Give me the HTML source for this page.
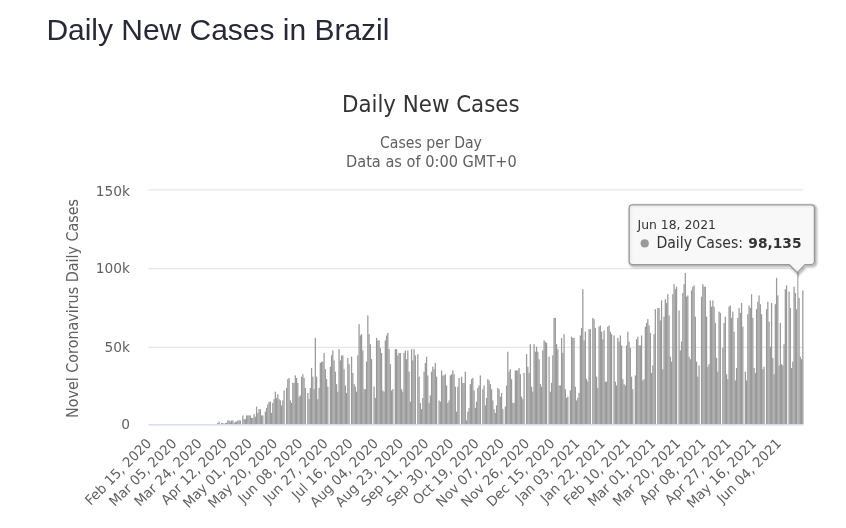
<!DOCTYPE html>
<html lang="en"><head><meta charset="utf-8"><title>Daily New Cases in Brazil</title>
<style>
html,body{margin:0;padding:0;background:#fff;}
body{width:846px;height:528px;overflow:hidden;position:relative;font-family:"Liberation Sans",Arial,sans-serif;}
h3{position:absolute;left:46.4px;top:12.5px;margin:0;font-size:30px;line-height:34px;font-weight:400;color:#272937;white-space:nowrap;letter-spacing:-0.02px}
svg{position:absolute;left:0;top:0;}
svg text{font-family:"DejaVu Sans","Liberation Sans",sans-serif;}
</style></head><body>
<h3>Daily New Cases in Brazil</h3>
<svg width="846" height="528" viewBox="0 0 846 528">
<g fill="none" stroke="#e6e6e6" stroke-width="1.25">
<path d="M148.45 189.8H803.45M148.45 268.5H803.45M148.45 347.3H803.45"/>
</g>
<g transform="translate(-0.3 0) scale(1.25)"><g fill="#999"><rect x="174" y="338.34" width="1" height="1"/>
<rect x="175" y="337.34" width="1" height="2"/>
<rect x="177" y="338.34" width="1" height="1"/>
<rect x="178" y="338.34" width="1" height="1"/>
<rect x="180" y="338.34" width="1" height="1"/>
<rect x="181" y="338.34" width="1" height="1"/>
<rect x="182" y="336.34" width="1" height="3"/>
<rect x="183" y="336.34" width="1" height="3"/>
<rect x="184" y="337.34" width="1" height="2"/>
<rect x="185" y="336.34" width="1" height="3"/>
<rect x="186" y="336.34" width="1" height="3"/>
<rect x="187" y="338.34" width="1" height="1"/>
<rect x="188" y="337.34" width="1" height="2"/>
<rect x="189" y="337.34" width="1" height="2"/>
<rect x="190" y="336.34" width="1" height="3"/>
<rect x="191" y="336.34" width="1" height="3"/>
<rect x="192" y="336.34" width="1" height="3"/>
<rect x="194" y="332.34" width="1" height="7"/>
<rect x="195" y="335.34" width="1" height="4"/>
<rect x="196" y="335.34" width="1" height="4"/>
<rect x="197" y="332.34" width="1" height="7"/>
<rect x="198" y="332.34" width="1" height="7"/>
<rect x="199" y="332.34" width="1" height="7"/>
<rect x="200" y="332.34" width="1" height="7"/>
<rect x="201" y="334.34" width="1" height="5"/>
<rect x="202" y="334.34" width="1" height="5"/>
<rect x="203" y="331.34" width="1" height="8"/>
<rect x="204" y="333.34" width="1" height="6"/>
<rect x="205" y="325.34" width="1" height="14"/>
<rect x="206" y="330.34" width="1" height="9"/>
<rect x="207" y="327.34" width="1" height="12"/>
<rect x="208" y="327.34" width="1" height="12"/>
<rect x="209" y="332.34" width="1" height="7"/>
<rect x="210" y="332.34" width="1" height="7"/>
<rect x="212" y="329.34" width="1" height="10"/>
<rect x="213" y="326.34" width="1" height="13"/>
<rect x="214" y="323.34" width="1" height="16"/>
<rect x="215" y="321.34" width="1" height="18"/>
<rect x="216" y="321.34" width="1" height="18"/>
<rect x="217" y="330.34" width="1" height="9"/>
<rect x="218" y="322.34" width="1" height="17"/>
<rect x="219" y="319.34" width="1" height="20"/>
<rect x="220" y="313.34" width="1" height="26"/>
<rect x="221" y="318.34" width="1" height="21"/>
<rect x="222" y="315.34" width="1" height="24"/>
<rect x="223" y="319.34" width="1" height="20"/>
<rect x="224" y="320.34" width="1" height="19"/>
<rect x="225" y="324.34" width="1" height="15"/>
<rect x="226" y="320.34" width="1" height="19"/>
<rect x="227" y="312.34" width="1" height="27"/>
<rect x="229" y="310.34" width="1" height="29"/>
<rect x="230" y="303.34" width="1" height="36"/>
<rect x="231" y="302.34" width="1" height="37"/>
<rect x="232" y="320.34" width="1" height="19"/>
<rect x="233" y="322.34" width="1" height="17"/>
<rect x="234" y="306.34" width="1" height="33"/>
<rect x="235" y="306.34" width="1" height="33"/>
<rect x="236" y="300.34" width="1" height="39"/>
<rect x="237" y="302.34" width="1" height="37"/>
<rect x="238" y="306.34" width="1" height="33"/>
<rect x="239" y="317.34" width="1" height="22"/>
<rect x="240" y="316.34" width="1" height="23"/>
<rect x="241" y="301.34" width="1" height="38"/>
<rect x="242" y="299.34" width="1" height="40"/>
<rect x="243" y="302.34" width="1" height="37"/>
<rect x="244" y="310.34" width="1" height="29"/>
<rect x="246" y="314.34" width="1" height="25"/>
<rect x="247" y="319.34" width="1" height="20"/>
<rect x="248" y="310.34" width="1" height="29"/>
<rect x="249" y="294.34" width="1" height="45"/>
<rect x="250" y="301.34" width="1" height="38"/>
<rect x="251" y="311.34" width="1" height="28"/>
<rect x="252" y="270.34" width="1" height="69"/>
<rect x="253" y="301.34" width="1" height="38"/>
<rect x="254" y="319.34" width="1" height="20"/>
<rect x="255" y="310.34" width="1" height="29"/>
<rect x="256" y="290.34" width="1" height="49"/>
<rect x="257" y="289.34" width="1" height="50"/>
<rect x="258" y="289.34" width="1" height="50"/>
<rect x="259" y="282.34" width="1" height="57"/>
<rect x="260" y="295.34" width="1" height="44"/>
<rect x="261" y="303.34" width="1" height="36"/>
<rect x="262" y="309.34" width="1" height="30"/>
<rect x="264" y="293.34" width="1" height="46"/>
<rect x="265" y="284.34" width="1" height="55"/>
<rect x="266" y="280.34" width="1" height="59"/>
<rect x="267" y="288.34" width="1" height="51"/>
<rect x="268" y="297.34" width="1" height="42"/>
<rect x="269" y="307.34" width="1" height="32"/>
<rect x="270" y="313.34" width="1" height="26"/>
<rect x="271" y="279.34" width="1" height="60"/>
<rect x="272" y="288.34" width="1" height="51"/>
<rect x="273" y="284.34" width="1" height="55"/>
<rect x="274" y="284.34" width="1" height="55"/>
<rect x="275" y="295.34" width="1" height="44"/>
<rect x="276" y="308.34" width="1" height="31"/>
<rect x="277" y="314.34" width="1" height="25"/>
<rect x="278" y="286.34" width="1" height="53"/>
<rect x="279" y="291.34" width="1" height="48"/>
<rect x="281" y="285.34" width="1" height="54"/>
<rect x="282" y="298.34" width="1" height="41"/>
<rect x="283" y="307.34" width="1" height="32"/>
<rect x="284" y="309.34" width="1" height="30"/>
<rect x="285" y="313.34" width="1" height="26"/>
<rect x="286" y="284.34" width="1" height="55"/>
<rect x="287" y="259.34" width="1" height="80"/>
<rect x="288" y="268.34" width="1" height="71"/>
<rect x="289" y="267.34" width="1" height="72"/>
<rect x="290" y="280.34" width="1" height="59"/>
<rect x="291" y="311.34" width="1" height="28"/>
<rect x="292" y="311.34" width="1" height="28"/>
<rect x="293" y="289.34" width="1" height="50"/>
<rect x="294" y="252.34" width="1" height="87"/>
<rect x="295" y="267.34" width="1" height="72"/>
<rect x="296" y="275.34" width="1" height="64"/>
<rect x="297" y="287.34" width="1" height="52"/>
<rect x="299" y="309.34" width="1" height="30"/>
<rect x="300" y="318.34" width="1" height="21"/>
<rect x="301" y="270.34" width="1" height="69"/>
<rect x="302" y="272.34" width="1" height="67"/>
<rect x="303" y="272.34" width="1" height="67"/>
<rect x="304" y="278.34" width="1" height="61"/>
<rect x="305" y="282.34" width="1" height="57"/>
<rect x="306" y="312.34" width="1" height="27"/>
<rect x="307" y="313.34" width="1" height="26"/>
<rect x="308" y="272.34" width="1" height="67"/>
<rect x="309" y="268.34" width="1" height="71"/>
<rect x="310" y="266.34" width="1" height="73"/>
<rect x="311" y="279.34" width="1" height="60"/>
<rect x="312" y="291.34" width="1" height="48"/>
<rect x="313" y="312.34" width="1" height="27"/>
<rect x="314" y="311.34" width="1" height="28"/>
<rect x="316" y="279.34" width="1" height="60"/>
<rect x="317" y="279.34" width="1" height="60"/>
<rect x="318" y="284.34" width="1" height="55"/>
<rect x="319" y="282.34" width="1" height="57"/>
<rect x="320" y="282.34" width="1" height="57"/>
<rect x="321" y="311.34" width="1" height="28"/>
<rect x="322" y="313.34" width="1" height="26"/>
<rect x="323" y="282.34" width="1" height="57"/>
<rect x="324" y="280.34" width="1" height="59"/>
<rect x="325" y="287.34" width="1" height="52"/>
<rect x="326" y="280.34" width="1" height="59"/>
<rect x="327" y="297.34" width="1" height="42"/>
<rect x="328" y="321.34" width="1" height="18"/>
<rect x="329" y="279.34" width="1" height="60"/>
<rect x="330" y="288.34" width="1" height="51"/>
<rect x="331" y="279.34" width="1" height="60"/>
<rect x="332" y="284.34" width="1" height="55"/>
<rect x="334" y="283.34" width="1" height="56"/>
<rect x="335" y="301.34" width="1" height="38"/>
<rect x="336" y="322.34" width="1" height="17"/>
<rect x="337" y="327.34" width="1" height="12"/>
<rect x="338" y="318.34" width="1" height="21"/>
<rect x="339" y="297.34" width="1" height="42"/>
<rect x="340" y="290.34" width="1" height="49"/>
<rect x="341" y="285.34" width="1" height="54"/>
<rect x="342" y="300.34" width="1" height="39"/>
<rect x="343" y="322.34" width="1" height="17"/>
<rect x="344" y="316.34" width="1" height="23"/>
<rect x="345" y="297.34" width="1" height="42"/>
<rect x="346" y="293.34" width="1" height="46"/>
<rect x="347" y="295.34" width="1" height="44"/>
<rect x="348" y="290.34" width="1" height="49"/>
<rect x="349" y="301.34" width="1" height="38"/>
<rect x="351" y="320.34" width="1" height="19"/>
<rect x="352" y="321.34" width="1" height="18"/>
<rect x="353" y="296.34" width="1" height="43"/>
<rect x="354" y="300.34" width="1" height="39"/>
<rect x="355" y="300.34" width="1" height="39"/>
<rect x="356" y="299.34" width="1" height="40"/>
<rect x="357" y="308.34" width="1" height="31"/>
<rect x="358" y="322.34" width="1" height="17"/>
<rect x="359" y="320.34" width="1" height="19"/>
<rect x="360" y="300.34" width="1" height="39"/>
<rect x="361" y="299.34" width="1" height="40"/>
<rect x="362" y="296.34" width="1" height="43"/>
<rect x="363" y="299.34" width="1" height="40"/>
<rect x="364" y="309.34" width="1" height="30"/>
<rect x="365" y="329.34" width="1" height="10"/>
<rect x="366" y="309.34" width="1" height="30"/>
<rect x="367" y="302.34" width="1" height="37"/>
<rect x="369" y="301.34" width="1" height="38"/>
<rect x="370" y="306.34" width="1" height="33"/>
<rect x="371" y="306.34" width="1" height="33"/>
<rect x="372" y="297.34" width="1" height="42"/>
<rect x="373" y="336.34" width="1" height="3"/>
<rect x="374" y="329.34" width="1" height="10"/>
<rect x="375" y="326.34" width="1" height="13"/>
<rect x="376" y="307.34" width="1" height="32"/>
<rect x="377" y="303.34" width="1" height="36"/>
<rect x="378" y="302.34" width="1" height="37"/>
<rect x="379" y="312.34" width="1" height="27"/>
<rect x="380" y="326.34" width="1" height="13"/>
<rect x="381" y="321.34" width="1" height="18"/>
<rect x="382" y="310.34" width="1" height="29"/>
<rect x="383" y="308.34" width="1" height="31"/>
<rect x="384" y="300.34" width="1" height="39"/>
<rect x="386" y="311.34" width="1" height="28"/>
<rect x="387" y="308.34" width="1" height="31"/>
<rect x="388" y="324.34" width="1" height="15"/>
<rect x="389" y="318.34" width="1" height="21"/>
<rect x="390" y="303.34" width="1" height="36"/>
<rect x="391" y="304.34" width="1" height="35"/>
<rect x="392" y="307.34" width="1" height="32"/>
<rect x="393" y="311.34" width="1" height="28"/>
<rect x="394" y="320.34" width="1" height="19"/>
<rect x="395" y="327.34" width="1" height="12"/>
<rect x="396" y="330.34" width="1" height="9"/>
<rect x="397" y="324.34" width="1" height="15"/>
<rect x="398" y="310.34" width="1" height="29"/>
<rect x="399" y="311.34" width="1" height="28"/>
<rect x="400" y="317.34" width="1" height="22"/>
<rect x="401" y="314.34" width="1" height="25"/>
<rect x="402" y="327.34" width="1" height="12"/>
<rect x="404" y="325.34" width="1" height="14"/>
<rect x="405" y="308.34" width="1" height="31"/>
<rect x="406" y="281.34" width="1" height="58"/>
<rect x="407" y="297.34" width="1" height="42"/>
<rect x="408" y="295.34" width="1" height="44"/>
<rect x="409" y="303.34" width="1" height="36"/>
<rect x="410" y="322.34" width="1" height="17"/>
<rect x="411" y="322.34" width="1" height="17"/>
<rect x="412" y="296.34" width="1" height="43"/>
<rect x="413" y="296.34" width="1" height="43"/>
<rect x="414" y="296.34" width="1" height="43"/>
<rect x="415" y="294.34" width="1" height="45"/>
<rect x="416" y="299.34" width="1" height="40"/>
<rect x="417" y="317.34" width="1" height="22"/>
<rect x="418" y="319.34" width="1" height="20"/>
<rect x="419" y="298.34" width="1" height="41"/>
<rect x="421" y="283.34" width="1" height="56"/>
<rect x="422" y="293.34" width="1" height="46"/>
<rect x="423" y="298.34" width="1" height="41"/>
<rect x="424" y="275.34" width="1" height="64"/>
<rect x="425" y="309.34" width="1" height="30"/>
<rect x="426" y="313.34" width="1" height="26"/>
<rect x="427" y="275.34" width="1" height="64"/>
<rect x="428" y="281.34" width="1" height="58"/>
<rect x="429" y="277.34" width="1" height="62"/>
<rect x="430" y="281.34" width="1" height="58"/>
<rect x="431" y="287.34" width="1" height="52"/>
<rect x="432" y="307.34" width="1" height="32"/>
<rect x="433" y="309.34" width="1" height="30"/>
<rect x="434" y="280.34" width="1" height="59"/>
<rect x="435" y="272.34" width="1" height="67"/>
<rect x="436" y="273.34" width="1" height="66"/>
<rect x="437" y="274.34" width="1" height="65"/>
<rect x="439" y="285.34" width="1" height="54"/>
<rect x="440" y="313.34" width="1" height="26"/>
<rect x="441" y="306.34" width="1" height="33"/>
<rect x="442" y="284.34" width="1" height="55"/>
<rect x="443" y="254.34" width="1" height="85"/>
<rect x="444" y="254.34" width="1" height="85"/>
<rect x="445" y="275.34" width="1" height="64"/>
<rect x="446" y="279.34" width="1" height="60"/>
<rect x="447" y="308.34" width="1" height="31"/>
<rect x="448" y="308.34" width="1" height="31"/>
<rect x="449" y="270.34" width="1" height="69"/>
<rect x="450" y="282.34" width="1" height="57"/>
<rect x="451" y="267.34" width="1" height="72"/>
<rect x="452" y="311.34" width="1" height="28"/>
<rect x="453" y="318.34" width="1" height="21"/>
<rect x="454" y="317.34" width="1" height="22"/>
<rect x="456" y="312.34" width="1" height="27"/>
<rect x="457" y="269.34" width="1" height="70"/>
<rect x="458" y="270.34" width="1" height="69"/>
<rect x="459" y="270.34" width="1" height="69"/>
<rect x="460" y="309.34" width="1" height="30"/>
<rect x="461" y="320.34" width="1" height="19"/>
<rect x="462" y="318.34" width="1" height="21"/>
<rect x="463" y="314.34" width="1" height="25"/>
<rect x="464" y="268.34" width="1" height="71"/>
<rect x="465" y="262.34" width="1" height="77"/>
<rect x="466" y="231.34" width="1" height="108"/>
<rect x="467" y="272.34" width="1" height="67"/>
<rect x="468" y="265.34" width="1" height="74"/>
<rect x="469" y="303.34" width="1" height="36"/>
<rect x="470" y="305.34" width="1" height="34"/>
<rect x="471" y="263.34" width="1" height="76"/>
<rect x="472" y="263.34" width="1" height="76"/>
<rect x="474" y="254.34" width="1" height="85"/>
<rect x="475" y="255.34" width="1" height="84"/>
<rect x="476" y="262.34" width="1" height="77"/>
<rect x="477" y="301.34" width="1" height="38"/>
<rect x="478" y="310.34" width="1" height="29"/>
<rect x="479" y="261.34" width="1" height="78"/>
<rect x="480" y="260.34" width="1" height="79"/>
<rect x="481" y="265.34" width="1" height="74"/>
<rect x="482" y="271.34" width="1" height="68"/>
<rect x="483" y="264.34" width="1" height="75"/>
<rect x="484" y="305.34" width="1" height="34"/>
<rect x="485" y="305.34" width="1" height="34"/>
<rect x="486" y="261.34" width="1" height="78"/>
<rect x="487" y="260.34" width="1" height="79"/>
<rect x="488" y="265.34" width="1" height="74"/>
<rect x="489" y="267.34" width="1" height="72"/>
<rect x="491" y="268.34" width="1" height="71"/>
<rect x="492" y="305.34" width="1" height="34"/>
<rect x="493" y="308.34" width="1" height="31"/>
<rect x="494" y="270.34" width="1" height="69"/>
<rect x="495" y="273.34" width="1" height="66"/>
<rect x="496" y="268.34" width="1" height="71"/>
<rect x="497" y="276.34" width="1" height="63"/>
<rect x="498" y="303.34" width="1" height="36"/>
<rect x="499" y="307.34" width="1" height="32"/>
<rect x="500" y="308.34" width="1" height="31"/>
<rect x="501" y="276.34" width="1" height="63"/>
<rect x="502" y="265.34" width="1" height="74"/>
<rect x="503" y="273.34" width="1" height="66"/>
<rect x="504" y="278.34" width="1" height="61"/>
<rect x="505" y="301.34" width="1" height="38"/>
<rect x="506" y="311.34" width="1" height="28"/>
<rect x="508" y="300.34" width="1" height="39"/>
<rect x="509" y="271.34" width="1" height="68"/>
<rect x="510" y="269.34" width="1" height="70"/>
<rect x="511" y="276.34" width="1" height="63"/>
<rect x="512" y="276.34" width="1" height="63"/>
<rect x="513" y="268.34" width="1" height="71"/>
<rect x="514" y="304.34" width="1" height="35"/>
<rect x="515" y="303.34" width="1" height="36"/>
<rect x="516" y="261.34" width="1" height="78"/>
<rect x="517" y="258.34" width="1" height="81"/>
<rect x="518" y="255.34" width="1" height="84"/>
<rect x="519" y="260.34" width="1" height="79"/>
<rect x="520" y="266.34" width="1" height="73"/>
<rect x="521" y="298.34" width="1" height="41"/>
<rect x="522" y="292.34" width="1" height="47"/>
<rect x="523" y="267.34" width="1" height="72"/>
<rect x="524" y="247.34" width="1" height="92"/>
<rect x="526" y="246.34" width="1" height="93"/>
<rect x="527" y="246.34" width="1" height="93"/>
<rect x="528" y="256.34" width="1" height="83"/>
<rect x="529" y="240.34" width="1" height="99"/>
<rect x="530" y="295.34" width="1" height="44"/>
<rect x="531" y="253.34" width="1" height="86"/>
<rect x="532" y="239.34" width="1" height="100"/>
<rect x="533" y="242.34" width="1" height="97"/>
<rect x="534" y="235.34" width="1" height="104"/>
<rect x="535" y="252.34" width="1" height="87"/>
<rect x="536" y="285.34" width="1" height="54"/>
<rect x="537" y="289.34" width="1" height="50"/>
<rect x="538" y="235.34" width="1" height="104"/>
<rect x="539" y="227.34" width="1" height="112"/>
<rect x="540" y="231.34" width="1" height="108"/>
<rect x="541" y="229.34" width="1" height="110"/>
<rect x="543" y="248.34" width="1" height="91"/>
<rect x="544" y="280.34" width="1" height="59"/>
<rect x="545" y="273.34" width="1" height="66"/>
<rect x="546" y="234.34" width="1" height="105"/>
<rect x="547" y="227.34" width="1" height="112"/>
<rect x="548" y="218.34" width="1" height="121"/>
<rect x="549" y="237.34" width="1" height="102"/>
<rect x="550" y="236.34" width="1" height="103"/>
<rect x="551" y="285.34" width="1" height="54"/>
<rect x="552" y="287.34" width="1" height="52"/>
<rect x="553" y="232.34" width="1" height="107"/>
<rect x="554" y="229.34" width="1" height="110"/>
<rect x="555" y="228.34" width="1" height="111"/>
<rect x="556" y="253.34" width="1" height="86"/>
<rect x="557" y="289.34" width="1" height="50"/>
<rect x="558" y="301.34" width="1" height="38"/>
<rect x="559" y="292.34" width="1" height="47"/>
<rect x="561" y="237.34" width="1" height="102"/>
<rect x="562" y="227.34" width="1" height="112"/>
<rect x="563" y="229.34" width="1" height="110"/>
<rect x="564" y="229.34" width="1" height="110"/>
<rect x="565" y="253.34" width="1" height="86"/>
<rect x="566" y="293.34" width="1" height="46"/>
<rect x="567" y="291.34" width="1" height="48"/>
<rect x="568" y="240.34" width="1" height="99"/>
<rect x="569" y="245.34" width="1" height="94"/>
<rect x="570" y="240.34" width="1" height="99"/>
<rect x="571" y="245.34" width="1" height="94"/>
<rect x="572" y="258.34" width="1" height="81"/>
<rect x="573" y="286.34" width="1" height="53"/>
<rect x="574" y="297.34" width="1" height="42"/>
<rect x="575" y="249.34" width="1" height="90"/>
<rect x="576" y="250.34" width="1" height="89"/>
<rect x="578" y="278.34" width="1" height="61"/>
<rect x="579" y="258.34" width="1" height="81"/>
<rect x="580" y="253.34" width="1" height="86"/>
<rect x="581" y="299.34" width="1" height="40"/>
<rect x="582" y="303.34" width="1" height="36"/>
<rect x="583" y="245.34" width="1" height="94"/>
<rect x="584" y="244.34" width="1" height="95"/>
<rect x="585" y="254.34" width="1" height="85"/>
<rect x="586" y="249.34" width="1" height="90"/>
<rect x="587" y="265.34" width="1" height="74"/>
<rect x="588" y="304.34" width="1" height="35"/>
<rect x="589" y="294.34" width="1" height="45"/>
<rect x="590" y="254.34" width="1" height="85"/>
<rect x="591" y="246.34" width="1" height="93"/>
<rect x="592" y="250.34" width="1" height="89"/>
<rect x="593" y="242.34" width="1" height="97"/>
<rect x="594" y="261.34" width="1" height="78"/>
<rect x="596" y="297.34" width="1" height="42"/>
<rect x="597" y="304.34" width="1" height="35"/>
<rect x="598" y="251.34" width="1" height="88"/>
<rect x="599" y="244.34" width="1" height="95"/>
<rect x="600" y="246.34" width="1" height="93"/>
<rect x="601" y="235.34" width="1" height="104"/>
<rect x="602" y="254.34" width="1" height="85"/>
<rect x="603" y="294.34" width="1" height="45"/>
<rect x="604" y="298.34" width="1" height="41"/>
<rect x="605" y="247.34" width="1" height="92"/>
<rect x="606" y="241.34" width="1" height="98"/>
<rect x="607" y="236.34" width="1" height="103"/>
<rect x="608" y="243.34" width="1" height="96"/>
<rect x="609" y="251.34" width="1" height="88"/>
<rect x="610" y="295.34" width="1" height="44"/>
<rect x="611" y="293.34" width="1" height="46"/>
<rect x="613" y="247.34" width="1" height="92"/>
<rect x="614" y="241.34" width="1" height="98"/>
<rect x="615" y="257.34" width="1" height="82"/>
<rect x="616" y="277.34" width="1" height="62"/>
<rect x="617" y="242.34" width="1" height="97"/>
<rect x="618" y="286.34" width="1" height="53"/>
<rect x="619" y="299.34" width="1" height="40"/>
<rect x="620" y="243.34" width="1" height="96"/>
<rect x="621" y="222.34" width="1" height="117"/>
<rect x="622" y="236.34" width="1" height="103"/>
<rect x="623" y="292.34" width="1" height="47"/>
<rect x="624" y="258.34" width="1" height="81"/>
<rect x="625" y="291.34" width="1" height="48"/>
<rect x="626" y="292.34" width="1" height="47"/>
<rect x="627" y="275.34" width="1" height="64"/>
<rect x="628" y="231.34" width="1" height="108"/>
<rect x="629" y="228.34" width="1" height="111"/>
<rect x="631" y="233.34" width="1" height="106"/>
<rect x="632" y="246.34" width="1" height="93"/>
<rect x="633" y="294.34" width="1" height="45"/>
<rect x="634" y="289.34" width="1" height="50"/>
<rect x="635" y="229.34" width="1" height="110"/>
<rect x="636" y="234.34" width="1" height="105"/>
<rect x="637" y="247.34" width="1" height="92"/>
<rect x="638" y="216.34" width="1" height="123" fill="#adadad"/>
<rect x="639" y="238.34" width="1" height="101"/>
<rect x="640" y="285.34" width="1" height="54"/>
<rect x="641" y="287.34" width="1" height="52"/>
<rect x="642" y="232.34" width="1" height="107"/></g></g>
<path d="M148.45 424.8H803.45" stroke="#ccd6eb" stroke-width="1.25" fill="none"/>
<text x="430.8" y="112.2" text-anchor="middle" font-size="22.5" fill="#333" textLength="177.7" lengthAdjust="spacingAndGlyphs">Daily New Cases</text>
<g font-size="15" fill="#606060" text-anchor="middle">
<text x="431.0" y="148.4" textLength="101.9" lengthAdjust="spacingAndGlyphs">Cases per Day</text>
<text x="431.4" y="166.6" textLength="170.8" lengthAdjust="spacingAndGlyphs">Data as of 0:00 GMT+0</text>
<text transform="translate(78 308.5) rotate(-90)" textLength="219" lengthAdjust="spacingAndGlyphs">Novel Coronavirus Daily Cases</text>
</g>
<g font-size="13.75" fill="#606060" text-anchor="end">
<text x="130" y="195.7">150k</text>
<text x="130" y="273.4">100k</text>
<text x="130" y="352.0">50k</text>
<text x="130" y="428.9">0</text>
</g>
<g font-size="13.75" fill="#606060">
<text transform="translate(152.31 444.3) rotate(-45) scale(0.97 1)" text-anchor="end">Feb 15, 2020</text>
<text transform="translate(177.51 444.3) rotate(-45) scale(0.97 1)" text-anchor="end">Mar 05, 2020</text>
<text transform="translate(202.70 444.3) rotate(-45) scale(0.97 1)" text-anchor="end">Mar 24, 2020</text>
<text transform="translate(227.89 444.3) rotate(-45) scale(0.97 1)" text-anchor="end">Apr 12, 2020</text>
<text transform="translate(253.08 444.3) rotate(-45) scale(0.97 1)" text-anchor="end">May 01, 2020</text>
<text transform="translate(278.27 444.3) rotate(-45) scale(0.97 1)" text-anchor="end">May 20, 2020</text>
<text transform="translate(303.47 444.3) rotate(-45) scale(0.97 1)" text-anchor="end">Jun 08, 2020</text>
<text transform="translate(328.66 444.3) rotate(-45) scale(0.97 1)" text-anchor="end">Jun 27, 2020</text>
<text transform="translate(353.85 444.3) rotate(-45) scale(0.97 1)" text-anchor="end">Jul 16, 2020</text>
<text transform="translate(379.04 444.3) rotate(-45) scale(0.97 1)" text-anchor="end">Aug 04, 2020</text>
<text transform="translate(404.24 444.3) rotate(-45) scale(0.97 1)" text-anchor="end">Aug 23, 2020</text>
<text transform="translate(429.43 444.3) rotate(-45) scale(0.97 1)" text-anchor="end">Sep 11, 2020</text>
<text transform="translate(454.62 444.3) rotate(-45) scale(0.97 1)" text-anchor="end">Sep 30, 2020</text>
<text transform="translate(479.81 444.3) rotate(-45) scale(0.97 1)" text-anchor="end">Oct 19, 2020</text>
<text transform="translate(505.01 444.3) rotate(-45) scale(0.97 1)" text-anchor="end">Nov 07, 2020</text>
<text transform="translate(530.20 444.3) rotate(-45) scale(0.97 1)" text-anchor="end">Nov 26, 2020</text>
<text transform="translate(555.39 444.3) rotate(-45) scale(0.97 1)" text-anchor="end">Dec 15, 2020</text>
<text transform="translate(580.58 444.3) rotate(-45) scale(0.97 1)" text-anchor="end">Jan 03, 2021</text>
<text transform="translate(605.77 444.3) rotate(-45) scale(0.97 1)" text-anchor="end">Jan 22, 2021</text>
<text transform="translate(630.97 444.3) rotate(-45) scale(0.97 1)" text-anchor="end">Feb 10, 2021</text>
<text transform="translate(656.16 444.3) rotate(-45) scale(0.97 1)" text-anchor="end">Mar 01, 2021</text>
<text transform="translate(681.35 444.3) rotate(-45) scale(0.97 1)" text-anchor="end">Mar 20, 2021</text>
<text transform="translate(706.54 444.3) rotate(-45) scale(0.97 1)" text-anchor="end">Apr 08, 2021</text>
<text transform="translate(731.74 444.3) rotate(-45) scale(0.97 1)" text-anchor="end">Apr 27, 2021</text>
<text transform="translate(756.93 444.3) rotate(-45) scale(0.97 1)" text-anchor="end">May 16, 2021</text>
<text transform="translate(782.12 444.3) rotate(-45) scale(0.97 1)" text-anchor="end">Jun 04, 2021</text>
</g>
<g>
<g fill="none" stroke="#000" transform="translate(1.25 1.25)">
<path d="M632.4 204.9H811.2a3.2 3.2 0 0 1 3.2 3.2V261.3a3.2 3.2 0 0 1 -3.2 3.2H805L797.3 272.6L789.2 264.5H632.4a3.2 3.2 0 0 1 -3.2 -3.2V208.1a3.2 3.2 0 0 1 3.2 -3.2z" stroke-opacity="0.05" stroke-width="6.25"/>
<path d="M632.4 204.9H811.2a3.2 3.2 0 0 1 3.2 3.2V261.3a3.2 3.2 0 0 1 -3.2 3.2H805L797.3 272.6L789.2 264.5H632.4a3.2 3.2 0 0 1 -3.2 -3.2V208.1a3.2 3.2 0 0 1 3.2 -3.2z" stroke-opacity="0.1" stroke-width="3.75"/>
<path d="M632.4 204.9H811.2a3.2 3.2 0 0 1 3.2 3.2V261.3a3.2 3.2 0 0 1 -3.2 3.2H805L797.3 272.6L789.2 264.5H632.4a3.2 3.2 0 0 1 -3.2 -3.2V208.1a3.2 3.2 0 0 1 3.2 -3.2z" stroke-opacity="0.15" stroke-width="1.25"/>
</g>
<path d="M632.4 204.9H811.2a3.2 3.2 0 0 1 3.2 3.2V261.3a3.2 3.2 0 0 1 -3.2 3.2H805L797.3 272.6L789.2 264.5H632.4a3.2 3.2 0 0 1 -3.2 -3.2V208.1a3.2 3.2 0 0 1 3.2 -3.2z" fill="#f7f7f7" fill-opacity="0.85" stroke="#999" stroke-width="1.25"/>
<text x="637.6" y="228.5" font-size="12.5" fill="#333" textLength="78.3" lengthAdjust="spacingAndGlyphs">Jun 18, 2021</text>
<circle cx="644.7" cy="243.4" r="4.1" fill="#999"/>
<text x="656.4" y="247.9" font-size="15" fill="#333" textLength="86.6" lengthAdjust="spacingAndGlyphs">Daily Cases:</text><text x="748.3" y="247.9" font-size="14.2" font-weight="bold" fill="#333" textLength="53.2" lengthAdjust="spacingAndGlyphs">98,135</text>
</g>
</svg>
</body></html>
